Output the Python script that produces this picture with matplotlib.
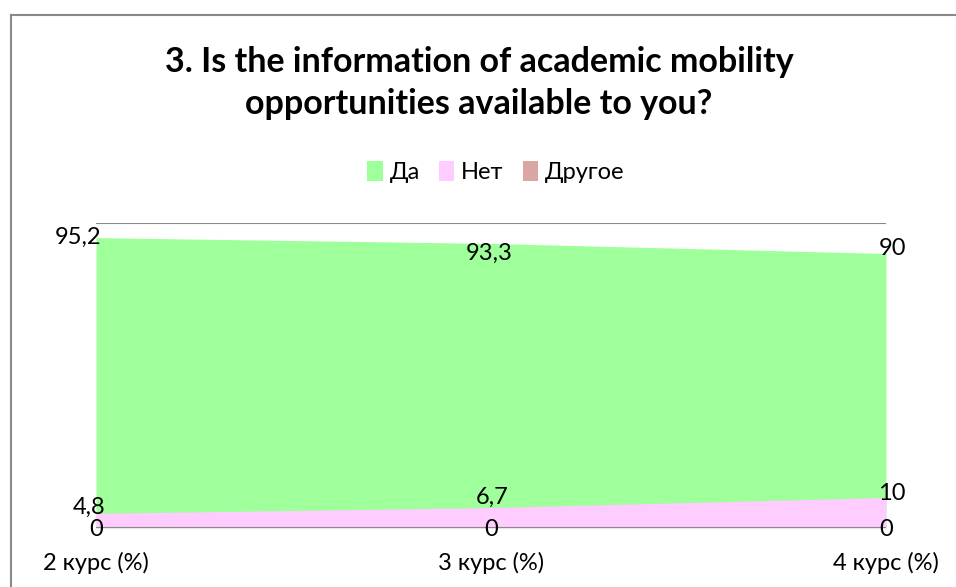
import matplotlib
matplotlib.use("Agg")
import matplotlib.pyplot as plt
from matplotlib.patches import Patch
from matplotlib.lines import Line2D

plt.rcParams['font.family'] = ['Lato', 'DejaVu Sans']

categories = ["2 курс (%)", "3 курс (%)", "4 курс (%)"]
series_names = ["Да", "Нет", "Другое"]
da = [95.2, 93.3, 90]
net = [4.8, 6.7, 10]
drugoe = [0, 0, 0]
value_labels = {"Да": ["95,2", "93,3", "90"], "Нет": ["4,8", "6,7", "10"], "Другое": ["0", "0", "0"]}

colors = {"Да": "#9EFF9B", "Нет": "#FFCCFF", "Другое": "#D9A6A4"}

fig = plt.figure(figsize=(9.56, 5.87), dpi=100)
ax = fig.add_axes([96/956, 1 - 528/587, (886 - 96)/956, (528 - 223)/587])

x = list(range(len(categories)))
data = {"Да": da, "Нет": net, "Другое": drugoe}
for name in series_names:
    ax.fill_between(x, 0, data[name], color=colors[name], linewidth=0, zorder=2)

ax.set_xlim(0, len(categories) - 1)
ax.set_ylim(0, 100)
ax.set_yticks([])
ax.set_xticks([])
for s in ax.spines.values():
    s.set_visible(False)
ax.axhline(100, color="#898989", lw=1.5, zorder=1)
ax.axhline(0, color="#898989", lw=1.5, zorder=3)

FS = 17

# category labels
for i, c in enumerate(categories):
    ax.annotate(c, (i, 0), xytext=(0, -35), textcoords='offset pixels',
                ha='center', va='center', fontsize=FS, color='black')

# data labels (offsets in pixels)
offsets = {
    "Да": [(-18, 0), (-2, -10), (6, 5)],
    "Нет": [(-7, 6), (1, 10), (6, 4)],
    "Другое": [(0, -2), (0, -1), (0, -2)],
}
for name in series_names:
    for i in x:
        dx, dy = offsets[name][i]
        ax.annotate(value_labels[name][i], (i, data[name][i]), xytext=(dx, dy),
                    textcoords='offset pixels', ha='center', va='center',
                    fontsize=FS, color='black', zorder=5, annotation_clip=False)

# title
fig.text(479/956, 1 - 62/587, "3. Is the information of academic mobility",
         ha='center', va='center', fontsize=24.5, fontweight='bold')
fig.text(479/956, 1 - 104/587, "opportunities available to you?",
         ha='center', va='center', fontsize=24.5, fontweight='bold')

# legend
handles = [Patch(facecolor=colors[n], edgecolor='none') for n in series_names]
fig.legend(handles, series_names, loc='center', bbox_to_anchor=(496/956, 1 - 172/587),
           ncol=3, frameon=False, fontsize=FS, handlelength=0.65, handleheight=0.9,
           handletextpad=0.3, columnspacing=0.8)

# chart border (left and top visible)
fig.add_artist(Line2D([11/956, 11/956], [0, 1 - 15/587], transform=fig.transFigure,
                      color="#898989", lw=1.5))
fig.add_artist(Line2D([11/956, 1], [1 - 15/587, 1 - 15/587], transform=fig.transFigure,
                      color="#898989", lw=1.5))

fig.savefig("out.png", dpi=100)
